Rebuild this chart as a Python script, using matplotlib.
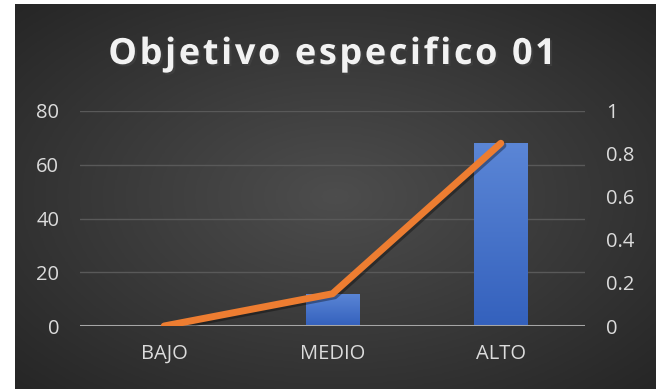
import numpy as np
import matplotlib
matplotlib.use("Agg")
import matplotlib.pyplot as plt
import matplotlib.patheffects as pe
from matplotlib.colors import LinearSegmentedColormap

categories = ["BAJO", "MEDIO", "ALTO"]
counts = [0, 12, 68]
proportions = [0.0, 0.15, 0.85]
left_ticks = [0, 20, 40, 60, 80]
right_ticks = [0, 0.2, 0.4, 0.6, 0.8, 1]
right_labels = ["0", "0.2", "0.4", "0.6", "0.8", "1"]
title = "Objetivo especifico 01"

W, H = 660, 389
fig = plt.figure(figsize=(W / 100, H / 100), dpi=100, facecolor="white")

def fx(px):
    return px / W

def fy(py):
    return 1 - py / H

# dark panel with a soft radial glow
bg = fig.add_axes([fx(15), fy(389), fx(656) - fx(15), fy(4) - fy(389)])
bg.set_axis_off()
yy, xx = np.mgrid[0:1:300j, 0:1:500j]
r = np.sqrt(((xx - 0.5) / 0.75) ** 2 + ((yy - 0.5) / 0.75) ** 2)
r = np.clip(r / 0.95, 0, 1)
glow = LinearSegmentedColormap.from_list("glow", ["#4d4d4d", "#262626"])
bg.imshow(r, cmap=glow, aspect="auto", extent=[0, 1, 0, 1], interpolation="bilinear")
bg.set_xlim(0, 1)
bg.set_ylim(0, 1)

ax = fig.add_axes([fx(80), fy(326), fx(585) - fx(80), fy(111) - fy(326)])
ax.set_facecolor("none")
x = np.arange(len(categories))
ax.set_ylim(0, 80)
ax.set_yticks(left_ticks)
ax.grid(axis="y", color="#595959", lw=1)
ax.set_axisbelow(True)
for s in ax.spines.values():
    s.set_visible(False)
ax.axhline(0, color="#a6a6a6", lw=2.2, zorder=3)

tick_col = "#dcdcdc"
font = "Open Sans"
tick_size = 14.5
ax.tick_params(axis="both", length=0, colors=tick_col, labelsize=tick_size)
ax.tick_params(axis="y", pad=15)
ax.tick_params(axis="x", pad=13)
ax.set_xticks(x)
ax.set_xticklabels(categories, fontfamily=font)
for lbl in ax.get_yticklabels():
    lbl.set_fontfamily(font)

bar_cmap = LinearSegmentedColormap.from_list("barfill", ["#3461bd", "#5b86d6"])
grad = np.linspace(0, 1, 256).reshape(-1, 1)
bars = ax.bar(x, counts, width=0.32, color="#4472c4", zorder=2)
for b in bars:
    if b.get_height() <= 0:
        continue
    bx, by = b.get_x(), b.get_y()
    im = ax.imshow(grad, cmap=bar_cmap, origin="lower", aspect="auto",
                   extent=[bx, bx + b.get_width(), by, by + b.get_height()],
                   zorder=2.1)
    im.set_clip_path(b)
ax.set_xlim(-0.5, len(categories) - 0.5)
ax.set_ylim(0, 80)

ax2 = ax.twinx()
ax2.set_ylim(0, 1)
ax2.set_yticks(right_ticks)
ax2.set_yticklabels(right_labels, fontfamily=font)
ax2.tick_params(axis="y", length=0, colors=tick_col, labelsize=tick_size, pad=15)
for s in ax2.spines.values():
    s.set_visible(False)
ax2.plot(x, proportions, color="#ed7d31", lw=5, solid_capstyle="round",
         solid_joinstyle="round", zorder=4,
         path_effects=[pe.SimpleLineShadow(offset=(1.5, -1.5), alpha=0.35),
                       pe.Normal()])

# title drawn glyph by glyph with extra tracking
title_kw = dict(color="#f2f2f2", fontsize=26, fontweight="bold", fontfamily=font,
                va="baseline", ha="left",
                path_effects=[pe.withSimplePatchShadow(offset=(1.5, -1.5), alpha=0.5)])
renderer = fig.canvas.get_renderer()
tracking = 2.6  # px between glyphs
probe = fig.text(0, 0, "", **title_kw)

def advance(s):
    probe.set_text(s)
    return probe.get_window_extent(renderer).width if s else 0.0

pos = []
for i in range(len(title)):
    pos.append(advance(title[:i]) + tracking * i)
total = advance(title) + tracking * (len(title) - 1)
probe.remove()
x0 = 332 - total / 2
for ch, p in zip(title, pos):
    if ch.strip():
        fig.text(fx(x0 + p), fy(64), ch, **title_kw)

fig.savefig("out.png", dpi=100, facecolor="white")
